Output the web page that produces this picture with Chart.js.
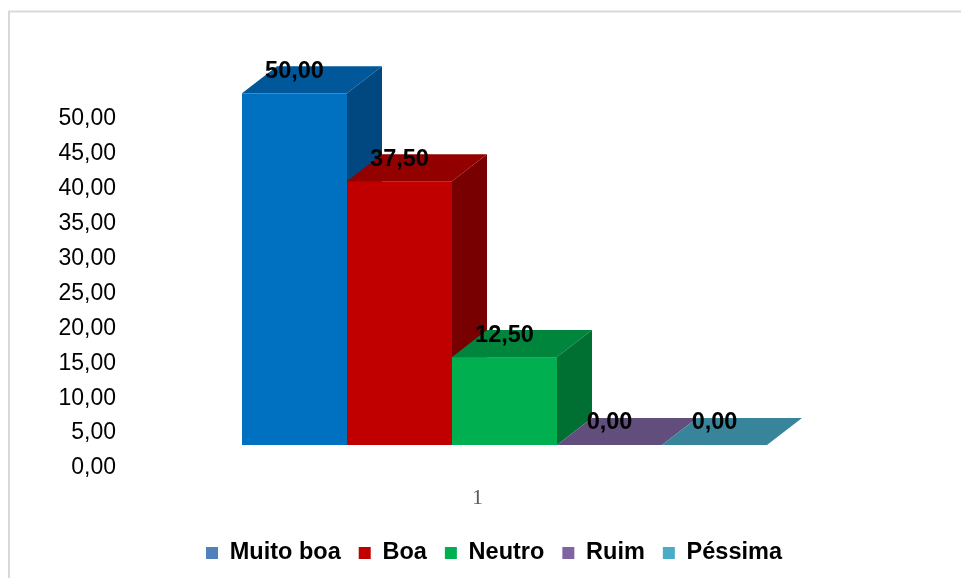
<!DOCTYPE html>
<html>
<head>
<meta charset="utf-8">
<script src="https://cdn.jsdelivr.net/npm/chart.js@4.4.1/dist/chart.umd.min.js"></script>
<style>
  html, body { margin: 0; padding: 0; background: #ffffff; }
  #wrap { width: 961px; height: 578px; position: relative; }
</style>
</head>
<body>
<div id="wrap"><canvas id="c" width="961" height="578"></canvas></div>
<script>
// ---- data ----
const categories = ['1'];
const seriesNames = ['Muito boa', 'Boa', 'Neutro', 'Ruim', 'Péssima'];
const seriesValues = [50.0, 37.5, 12.5, 0.0, 0.0];
const yTickMin = 0;
const yTickMax = 50;
const yTickStep = 5;

// ---- styles ----
const legendColors = ['#4F81BD', '#C00000', '#00B050', '#8064A2', '#4BACC6'];
const frontColors  = ['#0070C0', '#C00000', '#00B050', '#7F63A1', '#4AACC5'];
const topColors    = ['#00589A', '#920000', '#00853D', '#624E7C', '#38849A'];
const sideColors   = ['#00487F', '#790000', '#006F32', '#513F67', '#2C6E80'];

const fmt = v => v.toFixed(2).replace('.', ',');

const FRONT_DX = 27, FRONT_DY = -20, DEPTH_DX = 35, DEPTH_DY = -27, PERSP = 1.0077;

const bars3d = {
  id: 'bars3d',
  beforeDraw(chart) {
    const ctx = chart.ctx;
    ctx.save();
    ctx.fillStyle = '#ffffff';
    ctx.fillRect(0, 0, chart.width, chart.height);
    ctx.strokeStyle = '#d9d9d9';
    ctx.lineWidth = 2;
    ctx.beginPath();
    ctx.moveTo(9, chart.height);
    ctx.lineTo(9, 11.5);
    ctx.lineTo(chart.width, 11.5);
    ctx.stroke();
    ctx.restore();
  },
  beforeDatasetsDraw(chart) {
    const ctx = chart.ctx;
    const ys = chart.scales.y;
    const baseY = ys.getPixelForValue(0);
    const F = yy => baseY + FRONT_DY - (baseY - yy) * PERSP;
    const labels = [];
    ctx.save();
    chart.data.datasets.forEach((ds, i) => {
      const meta = chart.getDatasetMeta(i);
      meta.data.forEach((el, j) => {
        const p = el.getProps(['x', 'y', 'base', 'width'], true);
        const l = p.x - p.width / 2 + FRONT_DX;
        const r = l + p.width;
        const t = F(p.y);
        const b = F(p.base);
        if (b - t > 0.01) {
          ctx.fillStyle = frontColors[i];
          ctx.fillRect(l, t, r - l, b - t);
        }
        ctx.fillStyle = topColors[i];
        ctx.beginPath();
        ctx.moveTo(l, t);
        ctx.lineTo(l + DEPTH_DX, t + DEPTH_DY);
        ctx.lineTo(r + DEPTH_DX, t + DEPTH_DY);
        ctx.lineTo(r, t);
        ctx.closePath();
        ctx.fill();
        if (b - t > 0.01) {
          ctx.fillStyle = sideColors[i];
          ctx.beginPath();
          ctx.moveTo(r, t);
          ctx.lineTo(r + DEPTH_DX, t + DEPTH_DY);
          ctx.lineTo(r + DEPTH_DX, b + DEPTH_DY);
          ctx.lineTo(r, b);
          ctx.closePath();
          ctx.fill();
        }
        labels.push({ x: (l + r) / 2, y: t - 22, text: fmt(ds.data[j]) });
      });
    });
    ctx.fillStyle = '#000000';
    ctx.font = 'bold 23.5px "Liberation Sans", Arial, sans-serif';
    ctx.textAlign = 'center';
    ctx.textBaseline = 'middle';
    labels.forEach(lb => ctx.fillText(lb.text, lb.x, lb.y));
    ctx.restore();
    return false;
  }
};

const datasets = seriesNames.map((name, i) => ({
  label: name,
  data: [seriesValues[i]],
  backgroundColor: legendColors[i],
  borderWidth: 0,
  yAxisID: 'y'
}));

new Chart(document.getElementById('c'), {
  type: 'bar',
  data: { labels: categories, datasets },
  options: {
    responsive: false,
    animation: false,
    devicePixelRatio: 1,
    layout: { padding: { top: 116, left: 27, right: 0, bottom: 3.25 } },
    datasets: { bar: { barPercentage: 1.0, categoryPercentage: 0.7554 } },
    plugins: {
      tooltip: { enabled: false },
      legend: {
        position: 'bottom',
        labels: {
          boxWidth: 12,
          boxHeight: 12,
          padding: 18,
          color: '#000000',
          font: { family: '"Liberation Sans", Arial, sans-serif', size: 23.5, weight: 'bold', lineHeight: 1 }
        }
      }
    },
    scales: {
      x: {
        grid: { display: false, drawTicks: false },
        border: { display: false },
        ticks: {
          padding: 20,
          color: '#595959',
          font: { family: '"Liberation Serif", "DejaVu Serif", serif', size: 22 }
        },
        afterFit: s => { s.height = 58.25; }
      },
      y: {
        position: 'left',
        min: yTickMin,
        max: yTickMax,
        grid: { display: false, drawTicks: false },
        border: { display: false },
        ticks: {
          stepSize: yTickStep,
          padding: 14,
          labelOffset: 3,
          color: '#000000',
          font: { family: '"Liberation Sans", Arial, sans-serif', size: 23 },
          callback: v => fmt(v)
        },
        afterFit: s => { s.width = 103; }
      },
      y2: {
        type: 'linear',
        position: 'right',
        display: true,
        grid: { display: false, drawTicks: false },
        border: { display: false },
        ticks: { display: false },
        afterFit: s => { s.width = 136; }
      }
    }
  },
  plugins: [bars3d]
});
</script>
</body>
</html>
